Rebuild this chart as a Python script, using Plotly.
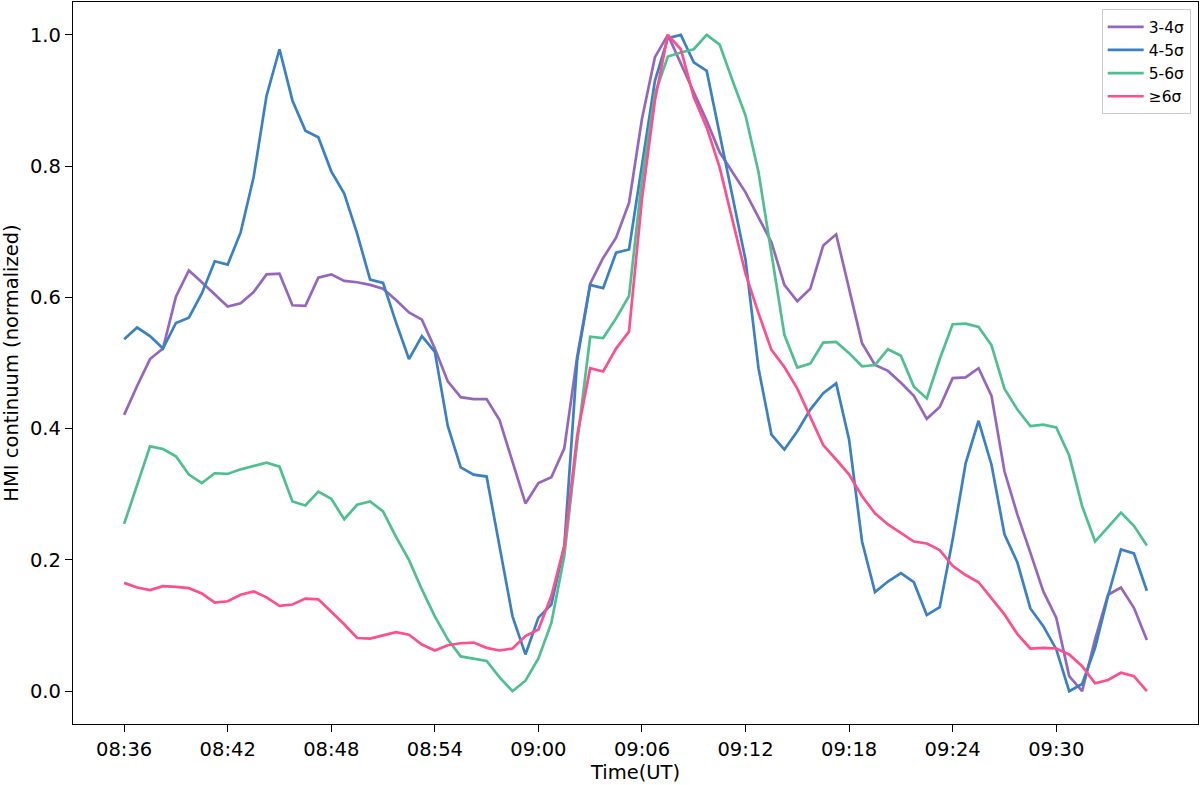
import datetime as dt
import pandas as pd
import plotly.graph_objects as go

# ---- data (normalized HMI continuum, 45 s cadence starting 08:36:00 UT) ----
start_time = "2000-01-01 08:36:00"
cadence_s = 45
tick_labels = ["08:36", "08:42", "08:48", "08:54", "09:00",
               "09:06", "09:12", "09:18", "09:24", "09:30"]

s34 = [0.421, 0.465, 0.506, 0.522, 0.601, 0.641, 0.623, 0.604, 0.586, 0.591,
       0.608, 0.635, 0.636, 0.588, 0.587, 0.630, 0.635, 0.625, 0.623, 0.619,
       0.613, 0.596, 0.577, 0.566, 0.522, 0.472, 0.448, 0.445, 0.445, 0.413,
       0.350, 0.286, 0.317, 0.326, 0.370, 0.510, 0.621, 0.660, 0.691, 0.744,
       0.872, 0.966, 1.000, 0.956, 0.913, 0.869, 0.821, 0.791, 0.760, 0.722,
       0.684, 0.619, 0.594, 0.613, 0.679, 0.696, 0.611, 0.530, 0.497, 0.488,
       0.470, 0.450, 0.415, 0.433, 0.477, 0.478, 0.492, 0.450, 0.335, 0.269,
       0.211, 0.152, 0.112, 0.023, 0.000, 0.079, 0.147, 0.158, 0.127, 0.078]

s45 = [0.536, 0.554, 0.541, 0.522, 0.561, 0.569, 0.606, 0.655, 0.650, 0.699,
       0.783, 0.907, 0.978, 0.900, 0.854, 0.844, 0.792, 0.758, 0.697, 0.627,
       0.622, 0.562, 0.506, 0.541, 0.517, 0.404, 0.341, 0.330, 0.327, 0.221,
       0.114, 0.056, 0.112, 0.132, 0.221, 0.505, 0.619, 0.614, 0.668, 0.673,
       0.800, 0.930, 0.995, 1.000, 0.958, 0.945, 0.849, 0.753, 0.657, 0.492,
       0.391, 0.368, 0.396, 0.429, 0.454, 0.469, 0.383, 0.228, 0.151, 0.167,
       0.180, 0.166, 0.116, 0.128, 0.231, 0.347, 0.412, 0.345, 0.239, 0.196,
       0.126, 0.099, 0.064, 0.000, 0.011, 0.066, 0.145, 0.216, 0.210, 0.153]

s56 = [0.255, 0.315, 0.373, 0.369, 0.358, 0.330, 0.317, 0.332, 0.331, 0.338,
       0.343, 0.348, 0.342, 0.289, 0.283, 0.304, 0.293, 0.262, 0.284, 0.289,
       0.274, 0.235, 0.200, 0.155, 0.114, 0.079, 0.053, 0.050, 0.046, 0.021,
       0.000, 0.016, 0.050, 0.104, 0.206, 0.380, 0.540, 0.538, 0.568, 0.602,
       0.780, 0.910, 0.967, 0.973, 0.978, 1.000, 0.985, 0.930, 0.877, 0.791,
       0.667, 0.543, 0.493, 0.499, 0.531, 0.532, 0.515, 0.495, 0.497, 0.521,
       0.511, 0.464, 0.446, 0.506, 0.559, 0.560, 0.555, 0.527, 0.461, 0.429,
       0.404, 0.406, 0.402, 0.359, 0.282, 0.228, 0.250, 0.272, 0.252, 0.222]

s6 = [0.165, 0.158, 0.154, 0.160, 0.159, 0.157, 0.149, 0.135, 0.137, 0.147,
      0.152, 0.143, 0.130, 0.132, 0.141, 0.140, 0.121, 0.102, 0.081, 0.080,
      0.085, 0.090, 0.086, 0.071, 0.062, 0.070, 0.073, 0.074, 0.066, 0.062,
      0.065, 0.084, 0.094, 0.145, 0.221, 0.390, 0.492, 0.487, 0.522, 0.548,
      0.750, 0.900, 1.000, 0.978, 0.905, 0.859, 0.798, 0.717, 0.636, 0.576,
      0.520, 0.494, 0.461, 0.418, 0.375, 0.353, 0.330, 0.297, 0.271, 0.254,
      0.241, 0.228, 0.225, 0.215, 0.191, 0.177, 0.166, 0.142, 0.117, 0.087,
      0.065, 0.066, 0.065, 0.056, 0.038, 0.012, 0.017, 0.028, 0.023, 0.000]

series_names = ["3-4σ", "4-5σ", "5-6σ", "≥6σ"]
series_values = [s34, s45, s56, s6]
series_colors = ["#9467bd", "#3a80c2", "#4fbf90", "#fb4f8e"]

# ---- figure ----
times = pd.date_range(start_time, periods=len(s34), freq=f"{cadence_s}s")
t0 = times[0]
span = times[-1] - times[0]
pad = span * 0.05
x_range = [(t0 - pad).strftime("%Y-%m-%d %H:%M:%S.%f"),
           (times[-1] + pad).strftime("%Y-%m-%d %H:%M:%S.%f")]
day = t0.strftime("%Y-%m-%d")
tick_vals = [f"{day} {lab}:00" for lab in tick_labels]

fig = go.Figure()
for name, vals, col in zip(series_names, series_values, series_colors):
    fig.add_trace(go.Scatter(x=times, y=vals, mode="lines", name=name,
                             legendgroup=name,
                             line=dict(color=col, width=2.7)))

font_family = "DejaVu Sans"
axis_common = dict(showline=True, mirror=True, linecolor="black", linewidth=1.3,
                   ticks="outside", ticklen=7, tickwidth=1.3, tickcolor="black",
                   showgrid=False, zeroline=False,
                   tickfont=dict(family=font_family, size=19.5, color="black"))

fig.update_layout(
    width=1200, height=785, autosize=False,
    margin=dict(l=73, r=2, t=2, b=61),
    paper_bgcolor="white", plot_bgcolor="white",
    font=dict(family=font_family, color="black"),
    xaxis=dict(type="date", range=x_range, tickmode="array",
               tickvals=tick_vals, ticktext=tick_labels,
               title=dict(text="Time(UT)", font=dict(family=font_family, size=19.5),
                          standoff=4),
               **axis_common),
    yaxis=dict(range=[-0.05, 1.05], tick0=0, dtick=0.2, tickformat=".1f",
               title=dict(text="HMI continuum (normalized)",
                          font=dict(family=font_family, size=19.5), standoff=8),
               **axis_common),
    legend=dict(x=0.9935, y=0.990, xanchor="right", yanchor="top",
                bgcolor="rgba(255,255,255,0.8)", bordercolor="#cccccc",
                borderwidth=1, font=dict(family=font_family, size=15.5),
                tracegroupgap=0, itemwidth=36),
    showlegend=True,
)

fig.write_html("out.html")
